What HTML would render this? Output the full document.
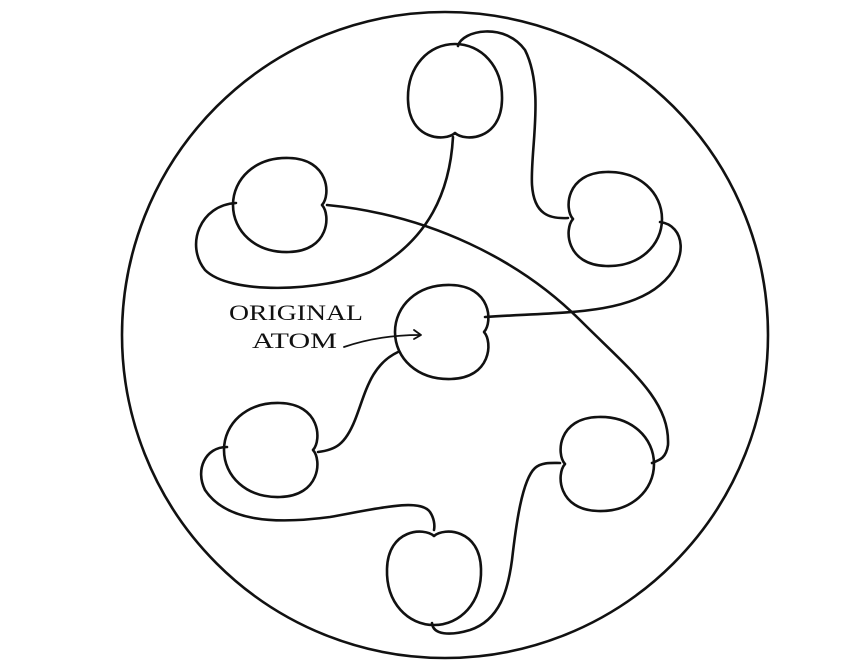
<!DOCTYPE html>
<html><head><meta charset="utf-8"><style>
html,body{margin:0;padding:0;background:#fff;}
svg{display:block;}
text{font-family:"Liberation Serif",serif;fill:#111;}
</style></head><body>
<svg width="866" height="671" viewBox="0 0 866 671" xmlns="http://www.w3.org/2000/svg">
<defs>
<path id="ap" d="M0,-41 C10,-50 46,-48 47,-8 C48,26 26,48 0,48 C-26,48 -48,26 -47,-8 C-46,-48 -10,-50 0,-41 Z"/>
</defs>
<g fill="none" stroke="#111" stroke-width="2.6" stroke-linecap="round" stroke-linejoin="round">
<circle cx="445" cy="335" r="323"/>
<use href="#ap" transform="translate(455,92) rotate(180)"/>
<use href="#ap" transform="translate(281,205) rotate(90)"/>
<use href="#ap" transform="translate(614,219) rotate(-90)"/>
<use href="#ap" transform="translate(443,332) rotate(90)"/>
<use href="#ap" transform="translate(272,450) rotate(90)"/>
<use href="#ap" transform="translate(434,577)"/>
<use href="#ap" transform="translate(606,464) rotate(-90)"/>
<!-- top atom bottom strand to upper-left atom -->
<path d="M453,137 C450,190 430,240 370,272 C320,292 230,295 205,270 C185,245 200,205 236,203"/>
<!-- top atom top strand to upper-right -->
<path d="M458,46 C462,30 505,22 525,50 C545,90 530,150 532,185 C534,215 550,219 568,218"/>
<!-- upper-right to center -->
<path d="M660,222 C685,225 690,260 660,285 C625,315 560,312 485,317"/>
<!-- upper-left long line to lower-right -->
<path d="M327,205 C430,215 520,260 580,320 C630,370 670,400 668,445 C666,458 660,460 652,463"/>
<!-- center to lower-left -->
<path d="M398,352 C370,365 365,395 355,420 C345,445 335,450 318,452"/>
<!-- lower-left to bottom -->
<path d="M227,447 C205,447 195,470 205,490 C225,520 270,525 330,517 C380,508 420,498 430,512 C434,518 435,525 434,530"/>
<!-- bottom to lower-right -->
<path d="M432,623 C433,635 450,636 470,630 C500,620 508,590 512,560 C516,525 522,480 535,468 C542,462 552,463 560,463"/>
<!-- label arrow -->
<path d="M344,347 C370,338 395,335 420,335" stroke-width="1.8"/>
<path d="M414,330 L421,335 L414,339" stroke-width="1.8"/>
</g>
<text x="229" y="320" font-size="22" textLength="134" lengthAdjust="spacingAndGlyphs">ORIGINAL</text>
<text x="252" y="348" font-size="22" textLength="85" lengthAdjust="spacingAndGlyphs">ATOM</text>
</svg>
</body></html>
